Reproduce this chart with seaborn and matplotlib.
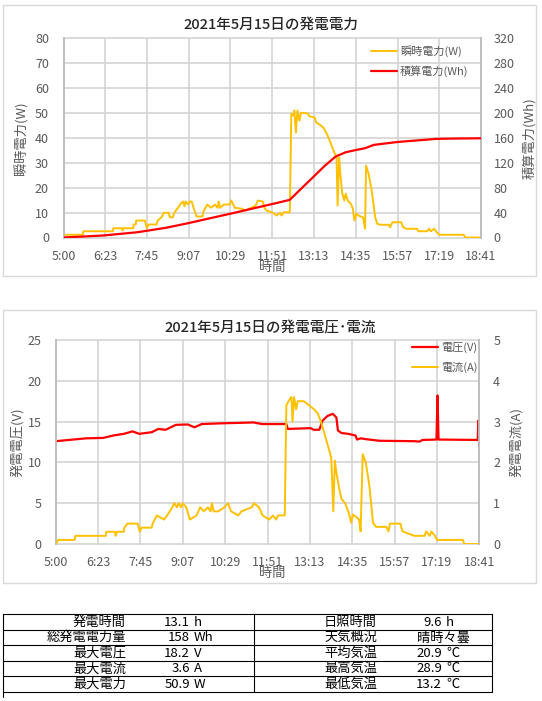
import matplotlib
matplotlib.use("Agg")
import matplotlib.pyplot as plt
from matplotlib.patches import Rectangle
import pandas as pd
import seaborn as sns

# ---- data ----
tick_labels = ["5:00", "6:23", "7:45", "9:07", "10:29", "11:51",
               "13:13", "14:35", "15:57", "17:19", "18:41"]

power_t = ["5:00", "5:02", "5:38", "5:39", "6:37", "6:38", "6:55", "6:56", "6:58", "7:17",
           "7:18", "7:22", "7:23", "7:40", "7:44", "7:47", "8:03", "8:05", "8:13", "8:17",
           "8:27", "8:29", "8:35", "8:38", "8:45", "8:52", "8:55", "8:58", "9:00", "9:05",
           "9:08", "9:12", "9:19", "9:22", "9:33", "9:36", "9:43", "9:50", "9:58", "10:03",
           "10:05", "10:08", "10:15", "10:27", "10:30", "10:37", "10:51", "10:58", "11:05", "11:18",
           "11:22", "11:32", "11:35", "11:39", "11:52", "11:59", "12:06", "12:09", "12:13", "12:25",
           "12:28", "12:32", "12:34", "12:37", "12:40", "12:44", "12:47", "13:00", "13:04", "13:14",
           "13:17", "13:24", "13:31", "13:38", "13:45", "13:51", "13:57", "13:59", "14:02", "14:05",
           "14:08", "14:12", "14:15", "14:19", "14:25", "14:29", "14:32", "14:36", "14:42", "14:49",
           "14:53", "14:55", "15:00", "15:06", "15:13", "15:17", "15:23", "15:40", "15:42", "15:47",
           "16:04", "16:08", "16:14", "16:35", "16:38", "16:55", "16:59", "17:02", "17:09", "17:14",
           "17:19", "18:07", "18:10", "18:41"]
power_w = [0, 1.1, 1.1, 2.5, 2.5, 3.7, 3.7, 2.8, 3.7, 3.7,
           5.2, 5.2, 6.8, 6.8, 3.7, 5.2, 5.2, 6.8, 8.1, 9.9,
           9.9, 8.1, 8.1, 9.9, 11.9, 13.9, 14.4, 12.5, 14.4, 13.2,
           14.4, 14.4, 9.9, 8.4, 8.4, 10.8, 13.2, 11.9, 13.2, 11.9,
           14.4, 11.9, 13.2, 13.2, 14.8, 11.9, 11.5, 10.8, 11.5, 12.8,
           14.8, 14.4, 11.9, 10.8, 9.9, 8.8, 9.9, 8.8, 10.1, 10.1,
           49.5, 48.8, 50.9, 42.0, 50.8, 46.8, 49.9, 49.7, 48.5, 48.0,
           46.0, 45.2, 44.0, 41.5, 38.0, 34.8, 32.0, 12.8, 32.0, 24.0,
           18.0, 14.8, 17.5, 14.8, 13.5, 11.5, 6.8, 9.5, 8.6, 8.1,
           3.5, 28.8, 25.5, 18.8, 8.1, 5.5, 5.1, 5.1, 4.1, 6.1,
           6.1, 4.1, 3.5, 3.5, 2.5, 2.5, 3.5, 2.5, 3.5, 2.1,
           1.1, 1.1, 0, 0]

energy_t = ["5:00", "6:18", "7:26", "8:21", "9:05", "9:43", "10:27", "11:18", "11:52", "12:25",
            "12:47", "13:14", "13:34", "13:55", "14:15", "14:36", "14:53", "15:10", "15:37", "15:57",
            "16:31", "17:12", "17:40", "18:41"]
energy_wh = [0, 3.2, 8.5, 15.5, 22.9, 29.9, 37.9, 47.5, 53.9, 60.3,
             77.9, 99.2, 115, 129.6, 136.5, 140.3, 143, 148.3, 151, 153,
             155.2, 157.9, 158.4, 158.9]

volt_t = ["5:00", "5:59", "6:32", "6:52", "7:12", "7:29", "7:42", "8:06", "8:19", "8:33",
          "8:53", "9:16", "9:29", "9:43", "10:26", "11:00", "11:23", "11:40", "12:27", "12:30",
          "13:14", "13:20", "13:31", "13:37", "13:47", "13:57", "14:04", "14:07", "14:14", "14:27",
          "14:41", "14:44", "14:51", "15:01", "15:14", "15:28", "16:35", "16:45", "16:51", "17:18",
          "17:20", "17:22", "18:38", "18:39", "18:41"]
volt_v = [12.6, 12.95, 13.0, 13.3, 13.5, 13.8, 13.5, 13.7, 14.1, 14.0,
          14.6, 14.65, 14.3, 14.7, 14.8, 14.85, 14.9, 14.7, 14.7, 14.1,
          14.2, 14.0, 14.0, 15.1, 15.7, 15.95, 15.5, 13.9, 13.6, 13.5,
          13.3, 12.8, 12.95, 12.85, 12.75, 12.65, 12.6, 12.55, 12.75, 12.8,
          18.2, 12.8, 12.75, 15.1, 12.0]

curr_t = ["5:00", "5:05", "5:37", "5:38", "6:37", "6:38", "6:55", "6:56", "6:59", "7:12",
          "7:13", "7:19", "7:39", "7:43", "7:46", "8:06", "8:08", "8:16", "8:30", "8:36",
          "8:46", "8:50", "8:55", "8:58", "9:03", "9:06", "9:13", "9:20", "9:33", "9:40",
          "9:47", "9:55", "10:00", "10:03", "10:06", "10:15", "10:27", "10:34", "10:40", "10:54",
          "11:00", "11:20", "11:24", "11:34", "11:41", "11:54", "12:01", "12:07", "12:11", "12:24",
          "12:27", "12:34", "12:37", "12:39", "12:42", "12:46", "12:49", "13:01", "13:11", "13:21",
          "13:28", "13:34", "13:44", "13:54", "13:58", "14:01", "14:04", "14:11", "14:14", "14:21",
          "14:28", "14:33", "14:36", "14:41", "14:48", "14:51", "14:55", "15:01", "15:08", "15:15",
          "15:21", "15:41", "15:45", "15:48", "16:08", "16:12", "16:35", "16:55", "16:58", "17:05",
          "17:08", "17:15", "17:19", "18:09", "18:12", "18:41"]
curr_a = [0, 0.1, 0.1, 0.2, 0.2, 0.3, 0.3, 0.2, 0.3, 0.3,
          0.4, 0.5, 0.5, 0.3, 0.4, 0.4, 0.5, 0.7, 0.6, 0.7,
          0.9, 1.0, 0.9, 1.0, 0.9, 1.0, 0.9, 0.6, 0.7, 0.9,
          0.8, 0.9, 0.8, 1.0, 0.8, 0.8, 0.9, 1.0, 0.8, 0.7,
          0.8, 0.9, 1.0, 0.9, 0.7, 0.6, 0.7, 0.6, 0.7, 0.7,
          3.4, 3.56, 3.6, 3.0, 3.6, 3.3, 3.5, 3.5, 3.4, 3.3,
          3.2, 3.0, 2.57, 2.12, 0.8, 2.04, 1.75, 1.26, 1.1, 1.0,
          0.76, 0.52, 0.72, 0.68, 0.6, 0.31, 2.2, 2.0, 1.42, 0.52,
          0.42, 0.42, 0.31, 0.5, 0.5, 0.31, 0.2, 0.2, 0.31, 0.2,
          0.31, 0.2, 0.1, 0.1, 0, 0]

tbl_l_labels = ["発電時間", "総発電電力量", "最大電圧", "最大電流", "最大電力"]
tbl_l_nums = ["13.1", "158", "18.2", "3.6", "50.9"]
tbl_l_units = ["h", "Wh", "V", "A", "W"]
tbl_r_labels = ["日照時間", "天気概況", "平均気温", "最高気温", "最低気温"]
tbl_r_nums = ["9.6", "", "20.9", "28.9", "13.2"]
tbl_r_units = ["h", "", "℃", "℃", "℃"]
weather = "晴時々曇"


def to_min(t):
    h, m = t.split(":")
    return int(h) * 60 + int(m)


def frame(times, vals):
    return pd.DataFrame({"t": [to_min(t) for t in times], "v": vals})


sns.set_style("white")
plt.rcParams["font.family"] = ["Noto Sans CJK JP", "DejaVu Sans"]

W, H = 542, 701
fig = plt.figure(figsize=(W / 100, H / 100), dpi=100)

# background layer in pixel coords: chart frames and table
bg = fig.add_axes([0, 0, 1, 1])
bg.set_xlim(0, W)
bg.set_ylim(H, 0)
bg.axis("off")
for (y0, y1) in [(5, 276), (310, 583)]:
    bg.add_patch(Rectangle((3, y0), 533, y1 - y0, fill=False, ec="#d9d9d9", lw=1))

GRAY = "#595959"
GRID = "#d4d4d4"
YEL = "#FFC000"
RED = "#FF0000"
xticks = [300 + 82.1 * k for k in range(11)]


def px_axes(x0, y0, x1, y1):
    return fig.add_axes([x0 / W, 1 - y1 / H, (x1 - x0) / W, (y1 - y0) / H])


def style(ax, axr, yticks, yticksr, lpad, rpad):
    ax.set_xlim(300, 1121)
    ax.set_ylim(0, yticks[-1])
    axr.set_ylim(0, yticksr[-1])
    ax.set_xticks(xticks)
    ax.set_xticklabels(tick_labels)
    ax.set_yticks(yticks)
    axr.set_yticks(yticksr)
    ax.grid(False)
    axr.grid(False)
    # gridlines as plain lines just under the data lines
    for x in xticks:
        ax.axvline(x, color=GRID, lw=1.2, zorder=1.5, clip_on=False)
    for y in yticks:
        ax.axhline(y, color=GRID, lw=1.2, zorder=1.5, clip_on=False)
    ax.tick_params(axis="x", length=0, labelsize=9, labelcolor=GRAY, pad=9)
    ax.tick_params(axis="y", length=0, labelsize=9, labelcolor=GRAY, pad=lpad)
    axr.tick_params(axis="y", length=0, labelsize=9, labelcolor=GRAY, pad=rpad)
    for a in (ax, axr):
        a.set_xlabel("")
        a.set_ylabel("")
        a.spines["top"].set_visible(False)
        a.spines["bottom"].set_visible(False)
        a.spines["left"].set_color("#bfbfbf")
        a.spines["right"].set_color("#bfbfbf")
        a.spines["left"].set_linewidth(1.3)
        a.spines["right"].set_linewidth(1.3)


def ftext(x, y, s, **kw):
    fig.text(x / W, 1 - y / H, s, **kw)


# ---- chart 1: power ----
ax1 = px_axes(63.5, 37.7, 481, 237.5)
ax1r = ax1.twinx()
sns.lineplot(data=frame(power_t, power_w), x="t", y="v", ax=ax1, color=YEL, lw=1.4,
             estimator=None, sort=False, legend=False, zorder=3)
sns.lineplot(data=frame(energy_t, energy_wh), x="t", y="v", ax=ax1r, color=RED, lw=1.6,
             estimator=None, sort=False, legend=False, zorder=3)
style(ax1, ax1r, list(range(0, 81, 10)), list(range(0, 321, 40)), 10.5, 9)
fig.legend(handles=[ax1.lines[0], ax1r.lines[0]], labels=["瞬時電力(W)", "積算電力(Wh)"],
           loc="upper left", bbox_to_anchor=(371 / W, 1 - 45 / H), frameon=False,
           fontsize=8, labelcolor=GRAY, handlelength=2.3, handletextpad=0.3,
           borderpad=0, borderaxespad=0, labelspacing=0.75)
ftext(270.5, 25, "2021年5月15日の発電電力", ha="center", va="center", fontsize=10.5,
      color="#262626", fontweight="medium")
ftext(21, 138, "瞬時電力(W)", ha="center", va="center", rotation=90, fontsize=9.5, color=GRAY)
ftext(529, 138, "積算電力(Wh)", ha="center", va="center", rotation=90, fontsize=9.5, color=GRAY)
ftext(272, 268, "時間", ha="center", va="center", fontsize=9.5, color=GRAY)

# ---- chart 2: voltage / current ----
ax2 = px_axes(55.7, 340, 479.3, 544)
ax2r = ax2.twinx()
sns.lineplot(data=frame(volt_t, volt_v), x="t", y="v", ax=ax2, color=RED, lw=1.6,
             estimator=None, sort=False, legend=False, zorder=3)
sns.lineplot(data=frame(curr_t, curr_a), x="t", y="v", ax=ax2r, color=YEL, lw=1.4,
             estimator=None, sort=False, legend=False, zorder=3)
style(ax2, ax2r, list(range(0, 26, 5)), list(range(0, 6)), 10, 10)
fig.legend(handles=[ax2.lines[0], ax2r.lines[0]], labels=["電圧(V)", "電流(A)"],
           loc="upper left", bbox_to_anchor=(412 / W, 1 - 342 / H), frameon=False,
           fontsize=8, labelcolor=GRAY, handlelength=2.3, handletextpad=0.3,
           borderpad=0, borderaxespad=0, labelspacing=0.75)
ftext(270.5, 329, "2021年5月15日の発電電圧･電流", ha="center", va="center", fontsize=10.5,
      color="#262626", fontweight="medium")
ftext(17, 442, "発電電圧(V)", ha="center", va="center", rotation=90, fontsize=9.5, color=GRAY)
ftext(516, 442, "発電電流(A)", ha="center", va="center", rotation=90, fontsize=9.5, color=GRAY)
ftext(272, 574, "時間", ha="center", va="center", fontsize=9.5, color=GRAY)

# ---- summary table ----
rows_y = [614, 629.5, 645, 660.5, 676, 691.5]
for y in rows_y:
    bg.plot([3, 492], [y, y], color="black", lw=0.8)
bg.plot([3, 3], [614, 697], color="black", lw=0.8)
bg.plot([254, 254], [614, 691.5], color="black", lw=0.8)
bg.plot([492, 492], [614, 691.5], color="black", lw=0.8)
for i in range(5):
    yc = (rows_y[i] + rows_y[i + 1]) / 2 + 0.5
    kw = dict(va="center", fontsize=9.5, color="black")
    bg.text(126, yc, tbl_l_labels[i], ha="right", **kw)
    bg.text(190, yc, tbl_l_nums[i], ha="right", **kw)
    bg.text(194, yc, tbl_l_units[i], ha="left", **kw)
    bg.text(377, yc, tbl_r_labels[i], ha="right", **kw)
    if tbl_r_nums[i]:
        bg.text(442, yc, tbl_r_nums[i], ha="right", **kw)
        bg.text(446, yc, tbl_r_units[i], ha="left", **kw)
    else:
        bg.text(417, yc, weather, ha="left", **kw)

fig.savefig("out.png", dpi=100)
